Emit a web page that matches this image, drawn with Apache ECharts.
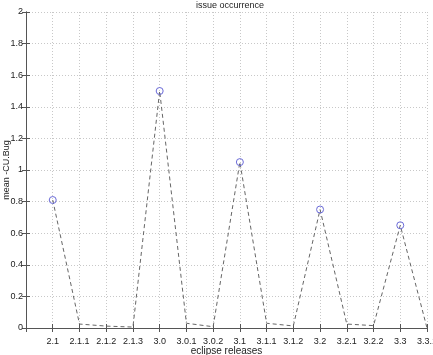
<!DOCTYPE html>
<html>
<head>
<meta charset="utf-8">
<script src="https://cdn.jsdelivr.net/npm/echarts@6/dist/echarts.min.js"></script>
<style>
  html, body { margin: 0; padding: 0; background: #fff; }
  #chart { width: 433px; height: 355px; }
</style>
</head>
<body>
<div id="chart"></div>
<script>
// releases along the x axis
var releases = ['2.1', '2.1.1', '2.1.2', '2.1.3', '3.0', '3.0.1', '3.0.2', '3.1',
                '3.1.1', '3.1.2', '3.2', '3.2.1', '3.2.2', '3.3', '3.3.1'];
// mean CU.Bug per release
var meanBug = [0.81, 0.025, 0.012, 0.006, 1.5, 0.03, 0.008, 1.05,
               0.03, 0.013, 0.75, 0.025, 0.015, 0.65, 0.0];
// which releases get a circle marker
var marked = ['2.1', '3.0', '3.1', '3.2', '3.3'];
var yTicks = [0, 0.2, 0.4, 0.6, 0.8, 1, 1.2, 1.4, 1.6, 1.8, 2];

var font = 'Liberation Sans, Arial, sans-serif';
var axisColor = '#555';

var points = releases.map(function (r, i) {
    var isMarked = marked.indexOf(r) >= 0;
    return {
        value: [i + 1, meanBug[i]],
        symbol: isMarked ? 'circle' : 'none'
    };
});

var chart = echarts.init(document.getElementById('chart'));

var gridLine = { show: true, lineStyle: { color: '#c8c8c8', type: [1, 2], width: 1 } };

chart.setOption({
    animation: false,
    backgroundColor: '#fff',
    title: {
        text: 'issue occurrence',
        left: 225,
        textAlign: 'center',
        top: -4,
        textStyle: { fontFamily: font, fontSize: 9, fontWeight: 'normal', color: '#222' }
    },
    grid: { left: 26, right: 6, top: 12, bottom: 27, outerBoundsMode: 'none', containLabel: false },
    xAxis: [{
        type: 'value',
        min: 0, max: releases.length, interval: 1,
        name: 'eclipse releases',
        nameLocation: 'middle',
        nameGap: 23,
        nameMoveOverlap: false,
        nameTextStyle: { fontFamily: font, fontSize: 10, color: '#222', verticalAlign: 'middle' },
        axisLine: { show: true, lineStyle: { color: axisColor } },
        axisTick: { show: true, inside: true, length: 4, lineStyle: { color: axisColor } },
        axisLabel: {
            fontFamily: font, fontSize: 9, color: '#222', margin: 9,
            showMinLabel: true, showMaxLabel: true, hideOverlap: false,
            formatter: function (v) { return v >= 1 ? releases[v - 1] : ''; }
        },
        splitLine: gridLine
    }, {
        type: 'value', position: 'top',
        min: 0, max: releases.length, interval: 1,
        axisLine: { show: true, lineStyle: { color: axisColor } },
        axisTick: { show: true, inside: true, length: 4, lineStyle: { color: axisColor } },
        axisLabel: { show: false },
        splitLine: { show: false }
    }],
    yAxis: [{
        type: 'value',
        min: yTicks[0], max: yTicks[yTicks.length - 1], interval: 0.2,
        name: 'mean -CU.Bug',
        nameLocation: 'middle',
        nameGap: 19,
        nameMoveOverlap: false,
        nameTextStyle: { fontFamily: font, fontSize: 9, color: '#222', verticalAlign: 'middle' },
        axisLine: { show: true, lineStyle: { color: axisColor } },
        axisTick: { show: true, inside: true, length: 4, lineStyle: { color: axisColor } },
        axisLabel: {
            fontFamily: font, fontSize: 9, color: '#222', margin: 3,
            formatter: function (v) { return String(Math.round(v * 10) / 10); }
        },
        splitLine: gridLine
    }, {
        type: 'value', position: 'right',
        min: yTicks[0], max: yTicks[yTicks.length - 1], interval: 0.2,
        axisLine: { show: true, lineStyle: { color: axisColor } },
        axisTick: { show: true, inside: true, length: 4, lineStyle: { color: axisColor } },
        axisLabel: { show: false },
        splitLine: { show: false }
    }],
    series: [{
        type: 'line',
        data: points,
        symbolSize: 7,
        showSymbol: true,
        clip: false,
        lineStyle: { color: '#666', width: 1, type: [4, 3] },
        itemStyle: { color: 'rgba(0,0,0,0)', borderColor: '#6a6ad8', borderWidth: 1 },
        z: 5
    }]
});
</script>
</body>
</html>
